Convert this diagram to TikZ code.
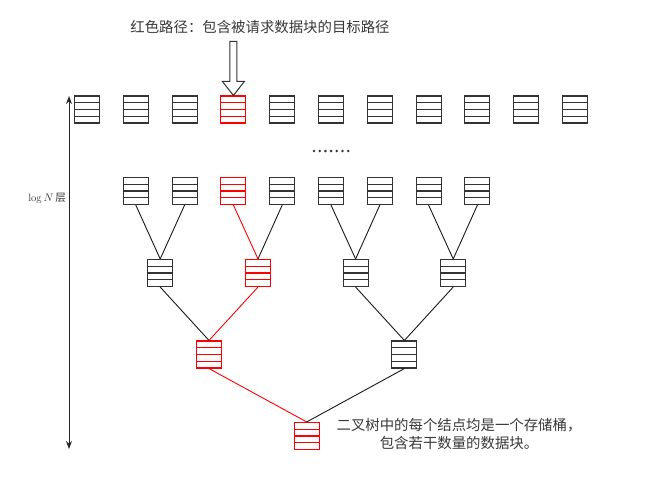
\documentclass[tikz,border=0pt]{standalone}
\usepackage{fontspec}
\newfontfamily\cjk{Noto Sans CJK SC}
\usetikzlibrary{calc,arrows.meta}
\definecolor{txtgray}{gray}{0.22}
\definecolor{boxgray}{gray}{0.2}
\tikzset{
  bucket/.style={draw=#1, line width=1.1pt, minimum width=25pt, minimum height=27pt, inner sep=0pt,
    path picture={\foreach \k in {1,2,3}{\draw[#1, line width=1.1pt]
      ($(path picture bounding box.north west)!\k/4!(path picture bounding box.south west)$) --
      ($(path picture bounding box.north east)!\k/4!(path picture bounding box.south east)$);}}},
  bucket/.default=boxgray,
  edge/.style={draw=black!90, line width=0.9pt},
  redge/.style={draw=red, line width=0.9pt},
  lbl/.style={text=txtgray, font=\cjk\fontsize{14.4}{18}\selectfont, inner sep=0pt, align=center}
}
\begin{document}
\begin{tikzpicture}[x=1pt,y=-1pt]
\useasboundingbox (0,0) rectangle (653,480);
% top row
\foreach \i in {0,...,10}{
  \ifnum\i=3
    \node[bucket=red] (t\i) at ({87+48.8*\i},109.5) {};
  \else
    \node[bucket] (t\i) at ({87+48.8*\i},109.5) {};
  \fi
}
% second row
\foreach \i in {0,...,7}{
  \ifnum\i=2
    \node[bucket=red] (a\i) at ({135.8+48.8*\i},191) {};
  \else
    \node[bucket] (a\i) at ({135.8+48.8*\i},191) {};
  \fi
}
% third row
\node[bucket] (b0) at (160.2,273) {};
\node[bucket=red] (b1) at (258,273) {};
\node[bucket] (b2) at (355.6,273) {};
\node[bucket] (b3) at (453.2,273) {};
% fourth row
\node[bucket=red] (c0) at (209,354.5) {};
\node[bucket] (c1) at (404.4,354.5) {};
% root
\node[bucket=red] (r) at (306.7,436) {};
% edges
\draw[edge] (a0.south) -- (b0.north);
\draw[edge] (a1.south) -- (b0.north);
\draw[redge] (a2.south) -- (b1.north);
\draw[edge] (a3.south) -- (b1.north);
\draw[edge] (a4.south) -- (b2.north);
\draw[edge] (a5.south) -- (b2.north);
\draw[edge] (a6.south) -- (b3.north);
\draw[edge] (a7.south) -- (b3.north);
\draw[edge] (b0.south) -- (c0.north);
\draw[redge] (b1.south) -- (c0.north);
\draw[edge] (b2.south) -- (c1.north);
\draw[edge] (b3.south) -- (c1.north);
\draw[redge] (c0.south) -- (r.north);
\draw[edge] (c1.south) -- (r.north);
% dots
\foreach \j in {0,...,6}{
  \fill[black!80] ({314+5.7*\j},151) circle (1.4);
}
% vertical double arrow
\coordinate (vt) at (69,96);
\coordinate (vb) at (69,449);
\draw[line width=1pt, black!85, {Stealth[length=8pt,width=6pt]}-{Stealth[length=8pt,width=6pt]}] (vt) -- (vb);
\node[text=txtgray, font=\fontsize{10.5}{12}\selectfont, inner sep=0pt, anchor=east] (ln) at (66,198) {$\log N$\,{\cjk 层}};
% hollow arrow
\draw[line width=1pt, boxgray, fill=white]
  ($(t3.north)+(-3.5,-54)$) -- ($(t3.north)+(3.5,-54)$) -- ($(t3.north)+(3.5,-14)$) --
  ($(t3.north)+(11,-14)$) -- ($(t3.north)+(0,0)$) -- ($(t3.north)+(-11,-14)$) --
  ($(t3.north)+(-3.5,-14)$) -- cycle;
% texts
\node[lbl] (title) at (260,27) {红色路径：包含被请求数据块的目标路径};
\node[lbl] (note) at (459,434) {二叉树中的每个结点均是一个存储桶，\\包含若干数量的数据块。};
\end{tikzpicture}
\end{document}
